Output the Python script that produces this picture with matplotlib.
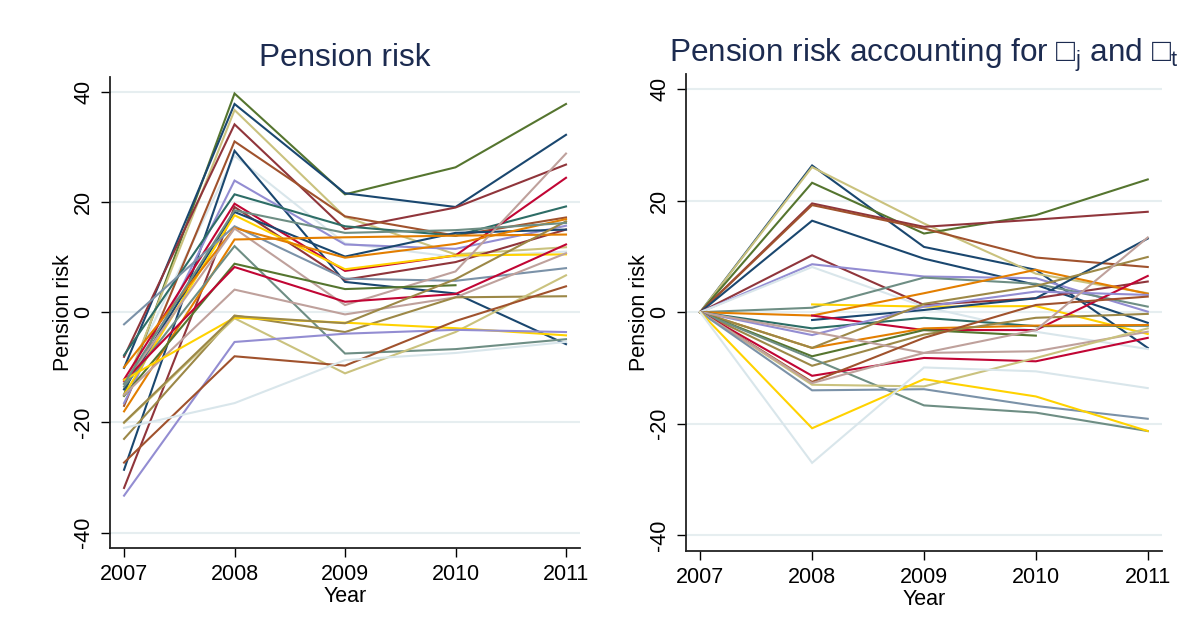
import numpy as np
import matplotlib
matplotlib.use("Agg")
import matplotlib.pyplot as plt

plt.rcParams['font.family'] = ['Liberation Sans', 'DejaVu Sans']
plt.rcParams['mathtext.fontset'] = 'custom'
plt.rcParams['mathtext.rm'] = 'Liberation Sans'
plt.rcParams['mathtext.it'] = 'Liberation Sans'
plt.rcParams['axes.unicode_minus'] = False

nan = np.nan

years = [2007, 2008, 2009, 2010, 2011]
yticks = [-40, -20, 0, 20, 40]

# stata s2color palette
palette = {
    'navy': '#1a476f', 'maroon': '#90353b', 'forest_green': '#55752f',
    'dkorange': '#e37e00', 'teal': '#6e8e84', 'cranberry': '#c10534',
    'lavender': '#938dd2', 'khaki': '#cac27e', 'sienna': '#a0522d',
    'emidblue': '#7b92a8', 'emerald': '#2d6d66', 'brown': '#9c8847',
    'erose': '#bfa19c', 'gold': '#ffd200', 'bluishgray': '#d9e6eb',
}

# left panel: raw pension risk
left_colors = ['bluishgray', 'forest_green', 'navy', 'khaki', 'maroon', 'sienna', 'navy',
               'lavender', 'emerald', 'cranberry', 'maroon', 'navy', 'gold',
               'emidblue', 'dkorange', 'erose', 'dkorange', 'teal', 'forest_green',
               'cranberry', 'erose', 'brown', 'khaki', 'gold', 'lavender', 'sienna',
               'bluishgray', 'brown', 'teal']
left_values = [
    [-13.0, 28.4, 12.5, 10.0, 11.0],
    [-15.0, 39.7, 21.4, 26.3, 37.8],
    [-10.1, 37.8, 21.6, 19.1, 32.2],
    [-14.0, 36.7, 17.3, 10.5, 11.8],
    [-8.1, 34.1, 15.1, 19.0, 26.8],
    [-17.0, 31.0, 17.4, 13.9, 17.2],
    [-28.6, 29.3, 5.5, 3.4, -5.8],
    [-16.5, 23.9, 12.3, 11.5, 15.7],
    [-7.8, 21.4, 15.6, 13.9, 19.2],
    [-12.2, 19.7, 7.5, 10.3, 24.4],
    [-31.9, 19.1, 5.9, 9.1, 15.0],
    [-14.0, 18.2, 10.1, 14.4, 15.0],
    [-15.0, 17.6, 7.8, 10.3, 10.5],
    [-2.2, 15.6, 6.1, 5.7, 8.0],
    [-10.0, 15.3, 9.9, 12.4, 16.9],
    [-13.0, 15.2, 1.3, 7.4, 28.8],
    [-18.0, 13.2, 13.6, 13.9, 14.1],
    [-13.5, 12.0, -7.5, -6.7, -4.9],
    [-15.2, 8.8, 4.2, 4.9, nan],
    [-12.5, 8.2, 1.9, 3.3, 12.3],
    [-15.0, 4.1, -0.4, 2.7, 10.7],
    [-23.0, -0.6, -3.6, 2.7, 2.9],
    [-20.1, -1.1, -11.1, -3.6, 6.7],
    [-12.3, -1.0, -1.9, -2.9, -4.2],
    [-33.3, -5.4, -3.9, -3.2, -3.6],
    [-27.3, -8.0, -9.7, -1.6, 4.7],
    [-21.0, -16.5, -8.7, -7.4, -5.4],
    [-20.0, -0.7, -2.0, 6.0, 16.5],
    [-13.0, 18.5, 14.4, 14.9, 16.2],
]

# right panel: accounting for unit and year effects
right_colors = ['navy', 'khaki', 'forest_green', 'maroon', 'sienna', 'navy', 'maroon',
                'lavender', 'bluishgray', 'teal', 'gold', 'dkorange', 'navy',
                'cranberry', 'emerald', 'lavender', 'dkorange', 'brown',
                'forest_green', 'brown', 'erose', 'teal', 'cranberry', 'sienna',
                'khaki', 'erose', 'emidblue', 'gold', 'bluishgray']
right_values = [
    [0, 26.3, 11.7, 7.6, -6.4],
    [0, 26.0, 15.9, 6.9, 3.4],
    [0, 23.2, 14.1, 17.4, 23.8],
    [0, 19.5, 15.3, 16.6, 18.0],
    [0, 19.2, 15.0, 9.8, 8.1],
    [0, 16.4, 9.6, 4.9, -1.9],
    [0, 10.2, 1.3, 2.5, 5.5],
    [0, 8.6, 6.4, 6.1, 0.1],
    [0, 8.1, 1.0, -3.5, -6.6],
    [0, 0.8, 6.2, 5.1, 1.0],
    [nan, 1.4, 1.0, 1.1, -3.9],
    [0, -0.6, 3.4, 7.6, 3.3],
    [nan, -1.4, 0.4, 2.5, 13.2],
    [nan, -0.6, -3.2, -3.2, 6.5],
    [0, -2.9, -1.0, -2.5, -2.4],
    [0, -4.1, 1.0, 3.7, 3.1],
    [0, -6.4, -2.9, -2.4, -2.3],
    [0, -6.4, 1.5, 4.7, 9.9],
    [0, -7.9, -3.2, -4.2, nan],
    [0, -9.6, -4.0, -1.0, -0.3],
    [0, -3.5, -7.3, -7.0, -3.5],
    [0, -8.3, -16.7, -18.0, -21.3],
    [0, -11.4, -8.2, -8.8, -4.6],
    [0, -12.5, -4.6, 1.3, 2.8],
    [0, -13.0, -13.3, -8.2, -2.9],
    [0, -12.7, -7.3, -3.2, 13.4],
    [0, -14.0, -13.8, -16.8, -19.1],
    [0, -20.8, -12.0, -15.1, -21.3],
    [0, -27.0, -9.9, -10.6, -13.6],
]

title_color = '#1c2b50'
fs = 15.5

fig = plt.figure(figsize=(11.92, 6.29), dpi=100)
ax1 = fig.add_axes([0.0923, 0.1288, 0.3943, 0.7488])
ax2 = fig.add_axes([0.5755, 0.124, 0.3993, 0.7584])


def draw_panel(ax, colors, values, title):
    for c, v in zip(colors, values):
        ax.plot(years, v, color=palette[c], lw=1.5, solid_joinstyle='miter')
    for t in yticks:
        ax.axhline(t, color='#e6eef0', lw=1.5, zorder=0)
    ax.set_xlim(2006.873, 2011.127)
    ax.set_ylim(-42.8, 42.7)
    ax.set_xticks(years)
    ax.set_yticks(yticks)
    ax.spines['top'].set_visible(False)
    ax.spines['right'].set_visible(False)
    for s in ['left', 'bottom']:
        ax.spines[s].set_linewidth(1.3)
        ax.spines[s].set_color('#222222')
    ax.tick_params(length=6.5, width=1.0, pad=5, labelsize=fs, colors='#000000')
    for lab in ax.get_yticklabels():
        lab.set_rotation(90)
        lab.set_va('center')
    ax.set_xlabel('Year', fontsize=fs, labelpad=1)
    ax.set_ylabel('Pension risk', fontsize=fs, labelpad=-1)
    ax.set_title(title, fontsize=22.7, color=title_color, pad=8)


draw_panel(ax1, left_colors, left_values, 'Pension risk')
draw_panel(ax2, right_colors, right_values,
           'Pension risk accounting for \u25a1$_\\mathrm{j}$ and \u25a1$_\\mathrm{t}$')

fig.savefig('out.png', dpi=100)
